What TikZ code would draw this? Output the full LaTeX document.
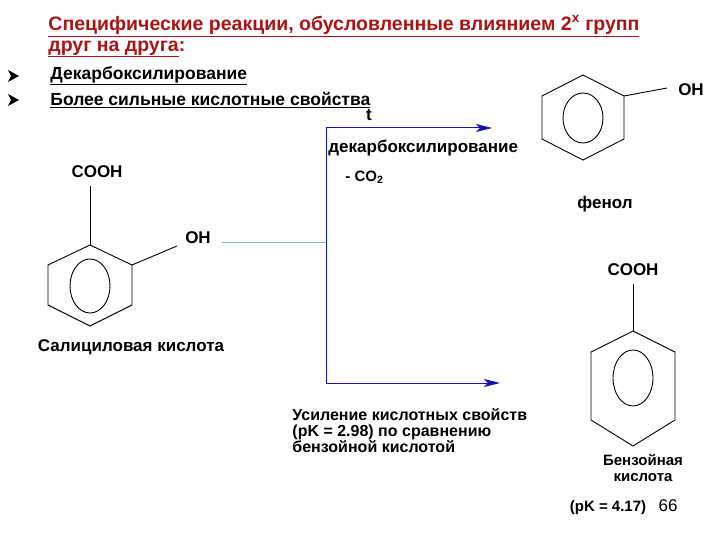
\documentclass[tikz,border=0pt]{standalone}
\usepackage{fontspec}
\setmainfont{Liberation Sans}
\usetikzlibrary{arrows.meta}
\definecolor{tred}{RGB}{170,20,20}
\definecolor{ablue}{RGB}{20,20,190}
\definecolor{lgreen}{RGB}{120,190,190}
\begin{document}
\begin{tikzpicture}[x=1pt,y=-1pt,line width=0.9pt,
  lbl/.style={font=\fontsize{17}{19}\selectfont\bfseries,inner sep=0pt},
  hd/.style={font=\fontsize{19.5}{21}\selectfont\bfseries,text=tred,inner sep=0pt,anchor=west},
  bl/.style={font=\fontsize{17.5}{19}\selectfont\bfseries,inner sep=0pt,anchor=west},
  arr/.style={ablue,line width=1pt,-{Stealth[length=16pt,width=8pt,inset=4pt]}}]
\fill[white] (0,0) rectangle (720,540);
\useasboundingbox (0,0) rectangle (720,540);
% header
\node[hd] (h1) at (48,26) {\underline{Специфические реакции, обусловленные влиянием 2\textsuperscript{х} групп}};
\node[hd] (h2) at (48,49) {\underline{друг на друга}:};
\node[bl] (b1) at (50,76) {\underline{Декарбоксилирование}};
\node[bl] (b2) at (50,100) {\underline{Более сильные кислотные свойства}};
\foreach \yy/\nm in {76/g1,100/g2}{
  \coordinate (\nm) at (13,\yy);
  \fill ([shift={(-5,-6)}]\nm) -- ([shift={(6,0)}]\nm) -- ([shift={(-5,6)}]\nm) -- ([shift={(-2,0)}]\nm) -- cycle;
}
% salicylic acid
\draw (90,245) -- (132,265) -- (132,305) -- (90,326) -- (48,305) -- (48,265) -- cycle;
\draw (90,286) ellipse (20 and 27);
\draw (90,245) -- (90,186);
\node[lbl] (cooh1) at (97,172) {COOH};
\draw (132,265) -- (177,246);
\node[lbl] (oh1) at (198,238) {OH};
\node[lbl] (sal) at (131,347) {Салициловая кислота};
% reaction lines
\coordinate (j) at (326,242);
\draw[lgreen,line width=1pt] (222,242) -- (j);
\coordinate (t) at (326,128);
\coordinate (b) at (326,383);
\coordinate (te) at (492,128);
\coordinate (be) at (500,383);
\draw[ablue,line width=1pt] (t) -- (b);
\draw[arr] (t) -- (te);
\draw[arr] (b) -- (be);
\node[lbl] (tt) at (369,115) {t};
\node[lbl,anchor=west] (dec) at (328,148) {декарбоксилирование};
\node[lbl,anchor=west,font=\fontsize{15}{17}\selectfont\bfseries] (co2) at (345,177) {- CO\textsubscript{2}};
\node[lbl,anchor=north west,align=left,font=\fontsize{16}{16}\selectfont\bfseries] (us) at (292,408) {Усиление кислотных свойств\\(pK = 2.98) по сравнению\\бензойной кислотой};
% phenol
\draw (583,75) -- (624,96) -- (624,139) -- (583,160) -- (542,139) -- (542,96) -- cycle;
\draw (583,118) ellipse (20 and 25);
\draw (624,96) -- (667,88);
\node[lbl] (oh2) at (691,90) {OH};
\node[lbl] (fen) at (605,204) {фенол};
% benzoic acid
\draw (633,331) -- (675,352) -- (675,420) -- (633,446) -- (591,420) -- (591,352) -- cycle;
\draw (633,378) ellipse (20 and 28);
\draw (633,331) -- (633,284);
\node[lbl] (cooh2) at (633,270) {COOH};
\node[lbl,align=center,font=\fontsize{15}{16}\selectfont\bfseries] (bz) at (643,468) {Бензойная\\кислота};
\node[lbl,font=\fontsize{15}{17}\selectfont\bfseries] (pk) at (608,508) {(pK = 4.17)};
\node[font=\fontsize{17}{19}\selectfont,inner sep=0pt] (n66) at (668,506) {66};
\end{tikzpicture}
\end{document}
